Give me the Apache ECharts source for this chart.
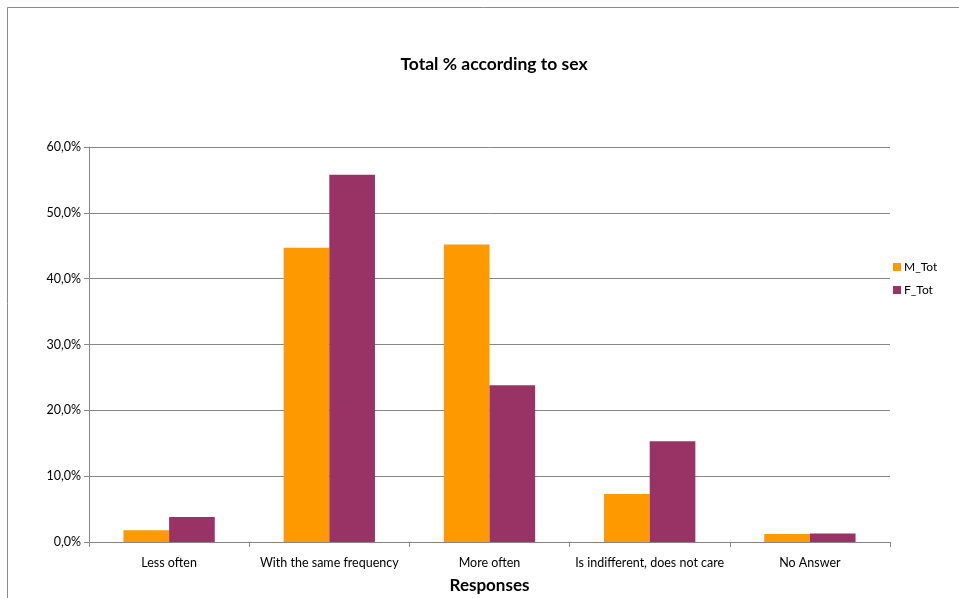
<!DOCTYPE html>
<html><head><meta charset="utf-8">
<script src="https://cdn.jsdelivr.net/npm/echarts@6/dist/echarts.min.js"></script>
<style>html,body{margin:0;padding:0;background:#fff;overflow:hidden}#c{width:959px;height:598px}</style>
</head><body><div id="c"></div>
<script>
var categories = ["Less often", "With the same frequency", "More often", "Is indifferent, does not care", "No Answer"];
var mTot = [1.8, 44.7, 45.2, 7.3, 1.2];
var fTot = [3.8, 55.8, 23.8, 15.3, 1.3];
var seriesNames = ["M_Tot", "F_Tot"];
var titleText = "Total % according to sex";
var xAxisName = "Responses";
var FONT = "Lato, 'Open Sans', sans-serif";
var chart = echarts.init(document.getElementById('c'));
chart.setOption({
  animation: false,
  backgroundColor: '#fff',
  graphic: [{type:'rect', shape:{x:7.5,y:7.5,width:960,height:600}, style:{fill:'none', stroke:'#8c8c8c', lineWidth:1}, silent:true}],
  title: {text: titleText, left: 489, textAlign: 'center', top: 50,
    textStyle: {fontFamily: FONT, fontSize: 17.5, fontWeight: 'bold', color: '#000'}},
  legend: {orient: 'vertical', left: 888, top: 256, itemWidth: 8, itemHeight: 8, itemGap: 11,
    icon: 'rect', textStyle: {fontFamily: FONT, fontSize: 12, color: '#000', padding:[0,0,0,-2]},
    data: seriesNames},
  grid: {left: 89, top: 147, width: 801, height: 395, containLabel: false, outerBoundsMode: 'none'},
  xAxis: {type: 'category', data: categories, name: xAxisName, nameLocation: 'middle', nameGap: 35,
    nameTextStyle: {fontFamily: FONT, fontSize: 17, fontWeight: 'bold', color: '#000'},
    axisLine: {lineStyle: {color: '#878787'}},
    axisTick: {show: true, length: 5, lineStyle: {color: '#878787'}},
    axisLabel: {fontFamily: FONT, fontSize: 12.5, color: '#000', margin: 14, interval: 0}},
  yAxis: {type: 'value', min: 0, max: 60, interval: 10,
    axisLine: {show: true, lineStyle: {color: '#878787'}},
    axisTick: {show: true, length: 5, lineStyle: {color: '#878787'}},
    splitLine: {lineStyle: {color: '#878787'}},
    axisLabel: {fontFamily: FONT, fontSize: 12.5, color: '#000', margin: 8,
      formatter: function(v){ return v.toFixed(1).replace('.', ',') + '%'; }}},
  series: [
    {name: seriesNames[0], type: 'bar', data: mTot, itemStyle: {color: '#FF9900'}, barGap: '0%', barCategoryGap: '43%'},
    {name: seriesNames[1], type: 'bar', data: fTot, itemStyle: {color: '#993366'}, barGap: '0%', barCategoryGap: '43%'}
  ]
});
</script></body></html>
